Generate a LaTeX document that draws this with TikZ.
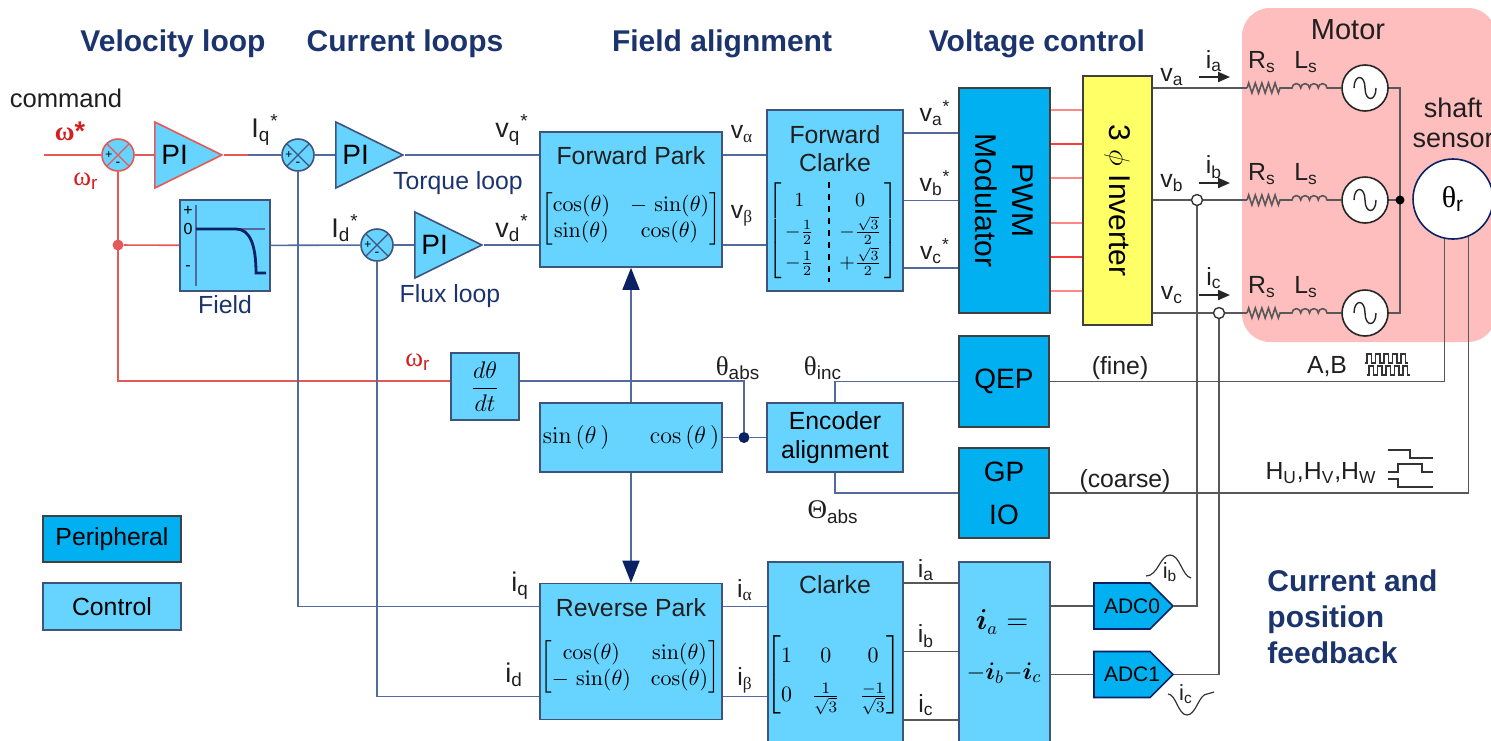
\documentclass[tikz,border=0pt]{standalone}
\usepackage{amsmath}
\usepackage[no-math]{fontspec}
\setmainfont{Liberation Sans}
\newfontfamily\gk{Liberation Serif}
\usetikzlibrary{shapes.geometric, shapes.symbols, arrows.meta, decorations.pathmorphing}

\definecolor{ctrl}{RGB}{102,212,255}
\definecolor{peri}{RGB}{0,176,240}
\definecolor{bord}{RGB}{62,84,124}
\definecolor{wirec}{RGB}{84,106,156}
\definecolor{navyc}{RGB}{10,34,100}
\definecolor{headc}{RGB}{28,52,110}
\definecolor{velo}{RGB}{228,88,88}
\definecolor{velotxt}{RGB}{214,30,30}
\definecolor{sigc}{RGB}{88,88,88}
\definecolor{invc}{RGB}{255,255,102}
\definecolor{motorbg}{RGB}{255,190,190}
\definecolor{gatelo}{RGB}{255,135,135}
\definecolor{gatehi}{RGB}{250,60,60}

\newcommand{\vsub}[2]{#1\textsubscript{#2}}
\newcommand{\vstar}[2]{#1\textsubscript{#2}\textsuperscript{*}}

\tikzstyle{lbl} = [inner sep=1pt, text=black!88, font=\fontsize{12.4}{15}\selectfont]
\tikzstyle{bigl} = [inner sep=1pt, text=black!88, font=\fontsize{13.5}{16}\selectfont]
\tikzstyle{heading} = [inner sep=0pt, text=headc, font=\bfseries\fontsize{15}{18}\selectfont]
\tikzstyle{ctrlbox} = [rectangle, draw=bord, line width=0.8pt, fill=ctrl, inner sep=0pt, align=center, font=\fontsize{12.4}{14.5}\selectfont]
\tikzstyle{peribox} = [rectangle, draw=black!75, line width=0.8pt, fill=peri, inner sep=0pt, align=center, font=\fontsize{14}{21.5}\selectfont]
\tikzstyle{piamp} = [isosceles triangle, isosceles triangle stretches, shape border rotate=0, minimum width=33pt, minimum height=33.5pt, inner sep=0pt, draw=bord, fill=ctrl, line width=0.8pt, font=\fontsize{14}{16}\selectfont]
\tikzstyle{source} = [circle, draw=black!85, fill=white, minimum size=23pt, inner sep=0pt, line width=0.8pt,
  path picture={\draw [line width=0.7pt] ([xshift=-5.5pt]path picture bounding box.center) .. controls +(0,7pt) and +(0,7pt) .. (path picture bounding box.center) .. controls +(0,-7pt) and +(0,-7pt) .. ([xshift=5.5pt]path picture bounding box.center);}]
\tikzstyle{dot} = [circle, fill, inner sep=0pt, minimum size=5.5pt]
\tikzstyle{tap} = [circle, draw=black!80, fill=white, inner sep=0pt, minimum size=5.5pt, line width=0.7pt]
\tikzstyle{adc} = [signal, signal to=east, draw=navyc, fill=peri, minimum width=39.5pt, minimum height=23pt, inner sep=0pt, line width=0.8pt]
\tikzstyle{wline} = [draw=wirec, line width=0.8pt]
\tikzstyle{rline} = [draw=velo, line width=0.8pt]
\tikzstyle{sline} = [draw=sigc, line width=0.8pt]
\tikzstyle{bigarrow} = [wline, -{Triangle[length=11pt, width=8.5pt, color=navyc]}]
\tikzset{sumj/.style={circle, draw=#1, fill=ctrl, minimum size=16pt, inner sep=0pt, line width=0.8pt,
  path picture={\draw [#1, line width=0.6pt] (path picture bounding box.north west) -- (path picture bounding box.south east)
    (path picture bounding box.north east) -- (path picture bounding box.south west);
    \node [inner sep=0pt, font=\fontsize{6}{6}\selectfont] at ([xshift=-4.6pt]path picture bounding box.center) {+};
    \node [inner sep=0pt, font=\fontsize{7}{7}\selectfont] at ([yshift=-4.8pt]path picture bounding box.center) {-};}}}

\begin{document}
\begin{tikzpicture}[x=0.5pt, y=-0.5pt]
\useasboundingbox (0,0) rectangle (1491,740);
\fill [motorbg, rounded corners=14pt] (1242,8) rectangle (1496,342);

% section titles
\node (tvel) [heading] at (173,44) {Velocity loop};
\node (tcur) [heading] at (405,44) {Current loops};
\node (tfld) [heading] at (722,44) {Field alignment};
\node (tvlt) [heading] at (1037,44) {Voltage control};
\node (tfb) [heading, align=left, anchor=west] at (1267,617) {Current and\\position\\feedback};
\node (tmot) [lbl, font=\fontsize{14.5}{17}\selectfont] at (1348,30) {Motor};
\node (tsh) [lbl, align=center, font=\fontsize{13.5}{15}\selectfont] at (1453,123) {shaft\\sensor};

% control blocks
\node (s1) [sumj=velo] at (118,155) {};
\node (piv) [piamp, draw=velo, anchor=apex] at (224,155) {PI};
\node (field) [ctrlbox, minimum width=45pt, minimum height=45.5pt] at (225,245.5) {};
\node (s2) [sumj=bord] at (298,155) {};
\node (pit) [piamp, anchor=apex] at (405,155) {PI};
\node (s3) [sumj=bord] at (377,245) {};
\node (pif) [piamp, anchor=apex] at (484,245) {PI};
\node (fpark) [ctrlbox, minimum width=91pt, minimum height=67.5pt] at (631,199.5) {};
\node (fclarke) [ctrlbox, minimum width=68pt, minimum height=90.5pt] at (835,200.5) {};
\node (ddt) [ctrlbox, minimum width=34pt, minimum height=33.5pt, font=\fontsize{13}{15}\selectfont] at (485,386.5) {$\dfrac{d\theta}{dt}$};
\node (sincos) [ctrlbox, minimum width=91pt, minimum height=34.5pt, font=\fontsize{11.5}{14}\selectfont] at (631,437.5) {$\sin\,(\theta\,)\quad\;\;\cos\,(\theta\,)$};
\node (enc) [ctrlbox, minimum width=68pt, minimum height=34.5pt] at (835,437.5) {Encoder\\alignment};
\node (rpark) [ctrlbox, minimum width=91pt, minimum height=68pt] at (631,651.5) {};
\node (clarke) [ctrlbox, minimum width=67.5pt, minimum height=91.5pt] at (835.5,653.5) {};
\node (iabox) [ctrlbox, minimum width=45.5pt, minimum height=91.5pt] at (1004.5,653.5) {};

% peripherals
\node (pwm) [peribox, minimum width=45.5pt, minimum height=112.5pt] at (1004.5,200.5) {};
\node (inv) [peribox, fill=invc, minimum width=34.5pt, minimum height=124.5pt] at (1117.5,200.5) {};
\node (qep) [peribox, minimum width=45pt, minimum height=45.5pt] at (1004,381.5) {QEP};
\node (gpio) [peribox, minimum width=45pt, minimum height=45pt] at (1004,493) {GP\\IO};
\node (adc0) [adc] at (1122,606) {};
\node (adc1) [adc] at (1122,674.5) {};
\node (adc0t) [inner sep=0pt, font=\fontsize{10.5}{12}\selectfont] at (1132,606) {ADC0};
\node (adc1t) [inner sep=0pt, font=\fontsize{10.5}{12}\selectfont] at (1132,674.5) {ADC1};
\node (legp) [peribox, minimum width=69pt, minimum height=23pt, font=\fontsize{12.4}{14}\selectfont] at (112,539) {Peripheral};
\node (legc) [ctrlbox, minimum width=69pt, minimum height=23.5pt] at (112,606.5) {Control};

% block contents
\node (pwmt) [rotate=-90, align=center, font=\fontsize{15}{18.5}\selectfont] at (pwm) {PWM\\Modulator};
\node (invt) [rotate=-90, font=\fontsize{15}{18}\selectfont] at (inv) {3 $\phi$ Inverter};
\node (fpt) [lbl] at (631,156) {Forward Park};
\node (fpm) [font=\fontsize{11}{13}\selectfont] at (631,219) {$\begin{bmatrix}\cos(\theta) & -\,\sin(\theta)\\ \sin(\theta) & \cos(\theta)\end{bmatrix}$};
\node (fct) [lbl, align=center, font=\fontsize{12.4}{14}\selectfont] at (835,149) {Forward\\Clarke};
\node (fcm) [font=\fontsize{10}{12}\selectfont] at (833,231) {\renewcommand\arraystretch{1.3}$\left[\begin{array}{@{\,}c@{\hspace{13pt}}c@{\,}}1 & 0\\ -\frac{1}{2} & -\frac{\sqrt{3}}{2}\\ -\frac{1}{2} & +\frac{\sqrt{3}}{2}\end{array}\right]$};
\draw [dashed, line width=0.6pt] (829,182) -- (829,282);
\node (rpt) [lbl] at (631,608) {Reverse Park};
\node (rpm) [font=\fontsize{11}{13}\selectfont] at (630,667) {$\begin{bmatrix}\cos(\theta) & \sin(\theta)\\ -\,\sin(\theta) & \cos(\theta)\end{bmatrix}$};
\node (clt) [lbl] at (835,585) {Clarke};
\node (clm) [font=\fontsize{11}{13}\selectfont] at (834,675) {\setlength\arraycolsep{5pt}\renewcommand\arraystretch{1.5}$\begin{bmatrix}1 & 0 & 0\\ 0 & \frac{1}{\sqrt{3}} & \frac{-1}{\sqrt{3}}\end{bmatrix}$};
\node (iat) [font=\fontsize{13.5}{16}\selectfont] at (1002,622) {$\boldsymbol{i}_a=$};
\node (ibt) [font=\fontsize{13}{16}\selectfont] at (1004,673) {$-\boldsymbol{i}_b{-}\boldsymbol{i}_c$};

% field weakening curve
\draw [wirec, line width=0.6pt] (196,205) -- (196,286) (196,229) -- (265,229);
\draw [navyc, line width=1.4pt] (196,229) -- (236,229) .. controls (250,229) and (256,245) .. (256,273) -- (266,273);
\node (fplus) [inner sep=0pt, font=\fontsize{8}{9}\selectfont] at (188,211) {+};
\node (fzero) [inner sep=0pt, font=\fontsize{8}{9}\selectfont] at (188,229) {0};
\node (fminus) [inner sep=0pt, font=\fontsize{8}{9}\selectfont] at (188,268) {-};

% velocity loop
\coordinate (wref) at (44,155);
\coordinate (iqs) at (248,155);
\node (dv) [dot, fill=velo] at (118,245) {};
\draw [rline] (wref) -- (s1);
\draw [rline] (s1) -- (piv);
\draw [rline] (piv.apex) -- (iqs);
\draw [rline] (s1) |- ([yshift=2.75pt]ddt.west);
\draw [rline] (dv) -- (field);

% current loops and field alignment
\draw [wline] (iqs) -- (s2);
\draw [wline] (s2) -- (pit);
\draw [wline] (field) -- (s3);
\draw [wline] (s3) -- (pif);
\draw [wline] (pit.apex) -- (pit.apex -| fpark.west);
\draw [wline] (pif.apex) -- (pif.apex -| fpark.west);
\draw [wline] (s2) |- ([yshift=22.5pt]rpark.west);
\draw [wline] (s3) |- ([yshift=-22.5pt]rpark.west);
\draw [wline] (fpark.east |- s2) -- (fclarke.west |- s2);
\draw [wline] (fpark.east |- s3) -- (fclarke.west |- s3);
\foreach \dy in {33.75,0,-33.75}
  \draw [wline] ([yshift=\dy pt]fclarke.east) coordinate (t) -- (t -| pwm.west);
\foreach \dy/\c in {45.25/gatelo, 28.25/gatehi, 11.25/gatelo, -11.25/gatelo, -28.25/gatehi, -45.25/gatelo}
  \draw [\c, line width=0.9pt] ([yshift=\dy pt]pwm.east) coordinate (t) -- (t -| inv.west);
\draw [bigarrow] (sincos) -- (fpark);
\draw [bigarrow] (sincos) -- (rpark);
\node (jn) [dot, fill=navyc] at (744,437.5) {};
\draw [wline] (sincos) -- (jn);
\draw [wline] (jn) -- (enc);
\draw [wline] ([yshift=2.75pt]ddt.east) -| (jn);
\draw [wline] (enc) |- (qep);
\draw [wline] (enc) |- (gpio);
\foreach \dy in {22.5,-22.5}
  \draw [wline] ([yshift=\dy pt]rpark.east) coordinate (t) -- (t -| clarke.west);
\foreach \dy in {35.25,1,-33.25}
  \draw [sline] ([yshift=\dy pt]clarke.east) coordinate (t) -- (t -| iabox.west);
\draw [sline] (adc0.west -| iabox.east) -- (adc0);
\draw [sline] (adc1.west -| iabox.east) -- (adc1);

% motor phases
\foreach \p/\y in {a/88, b/200, c/313} {
  \coordinate (r\p) at (1247,\y);
  \node (src\p) [source] at (1365,\y) {};
  \draw [sline] (inv.east |- r\p) -- (r\p);
  \draw [sline, decorate, decoration={zigzag, segment length=3.3pt, amplitude=2.5pt}] (r\p) -- (1280,\y);
  \draw [sline] (1280,\y) -- (1292,\y) arc[start angle=180, end angle=360, radius=4.375] arc[start angle=180, end angle=360, radius=4.375] arc[start angle=180, end angle=360, radius=4.375] arc[start angle=180, end angle=360, radius=4.375] -- (src\p);
  \node (rs\p) [lbl] at (1262,\y-26) {\vsub{R}{s}};
  \node (ls\p) [lbl] at (1306,\y-26) {\vsub{L}{s}};
}
\coordinate (star) at (1400,200);
\draw [sline] (srca) -| (star);
\draw [sline] (srcb) -- (star);
\draw [sline] (srcc) -| (star);
\node (stardot) [dot, fill=black, minimum size=4.5pt] at (star) {};
\foreach \p/\y/\ay/\iy in {a/88/77/61, b/200/183/167, c/313/295/278} {
  \node (v\p) [lbl] at (1172,\ay) {\vsub{v}{\p}};
  \node (i\p) [lbl] at (1214,\iy) {\vsub{i}{\p}};
  \draw [-{Triangle[length=6pt, width=5pt]}, line width=1pt, black!85] (1199,\ay) -- (1230,\ay);
}
\node (ob) [tap] at (1197,200) {};
\node (oc) [tap] at (1219,313) {};
\draw [sline] (ob) |- (adc0.east);
\draw [sline] (oc) |- (adc1.east);

% position sensor
\node (sensor) [circle, draw=navyc, fill=white, minimum size=40pt, inner sep=0pt, line width=0.8pt, font=\fontsize{15}{17}\selectfont] at (1453,199) {{\gk θ}\textsubscript{r}};
\draw [sline] (sensor.258) |- (qep.east);
\draw [sline] (sensor.292) |- (gpio.east);
\foreach \r/\o in {0/0, 1/2}
  \draw [black!80, line width=0.6pt] (1365+\o,363+12*\r) \foreach \i in {1,...,5} {-- ++(2,0) -- ++(0,-9) -- ++(4.5,0) -- ++(0,9) -- ++(2,0)};
\draw [black!80, line width=0.6pt] (1388,450) -- (1410,450) -- (1410,458) -- (1433,458);
\draw [black!80, line width=0.6pt] (1388,472) -- (1398,472) -- (1398,464) -- (1422,464) -- (1422,472) -- (1433,472);
\draw [black!80, line width=0.6pt] (1388,479) -- (1398,479) -- (1398,487) -- (1433,487);

% current waveforms
\draw [black!80, line width=0.6pt] (1146,576) .. controls (1158,576) and (1160,555) .. (1170,555) .. controls (1180,555) and (1182,576) .. (1191,578);
\draw [black!80, line width=0.6pt] (1168,694) .. controls (1176,694) and (1178,715) .. (1187,715) .. controls (1196,715) and (1199,694) .. (1207,694) -- (1214,692);
\node (wib) [lbl, font=\fontsize{11}{12}\selectfont] at (1170,572) {\vsub{i}{b}};
\node (wic) [lbl, font=\fontsize{11}{12}\selectfont] at (1186,694) {\vsub{i}{c}};

% labels
\node (lcmd) [lbl, font=\fontsize{12.8}{15}\selectfont] at (66,98) {command};
\node (lw) [bigl, text=velotxt] at (70,131) {{\gk\bfseries ω}\textbf{*}};
\node (lwr) [bigl, text=velotxt] at (86,181) {\vsub{{\gk ω}}{r}};
\node (lwr2) [bigl, text=velotxt] at (418,362) {\vsub{{\gk ω}}{r}};
\node (liq) [bigl] at (265,130) {\vstar{I}{q}};
\node (lid) [bigl] at (345,228) {\vstar{I}{d}};
\node (lvq) [bigl] at (512,130) {\vstar{v}{q}};
\node (lvd) [bigl] at (512,228) {\vstar{v}{d}};
\node (ltq) [lbl, text=headc] at (458,183) {Torque loop};
\node (lfx) [lbl, text=headc] at (450,296) {Flux loop};
\node (lfd) [lbl, text=headc] at (225,305) {Field};
\node (lva) [lbl] at (742,134) {\vsub{v}{\gk α}};
\node (lvb) [lbl] at (742,216) {\vsub{v}{\gk β}};
\node (lvas) [lbl] at (935,113) {\vstar{v}{a}};
\node (lvbs) [lbl] at (935,183) {\vstar{v}{b}};
\node (lvcs) [lbl] at (935,251) {\vstar{v}{c}};
\node (ltabs) [bigl] at (738,368) {\vsub{{\gk θ}}{abs}};
\node (ltinc) [bigl] at (823,368) {\vsub{{\gk θ}}{inc}};
\node (lTabs) [bigl] at (833,512) {\vsub{{\gk Θ}}{abs}};
\node (lfine) [lbl] at (1120,368) {(fine)};
\node (lcoarse) [lbl] at (1125,481) {(coarse)};
\node (lab) [lbl] at (1327,367) {A,B};
\node (lhall) [lbl] at (1321,473) {\vsub{H}{U},\vsub{H}{V},\vsub{H}{W}};
\node (liqf) [bigl] at (520,586) {\vsub{i}{q}};
\node (lidf) [bigl] at (514,675) {\vsub{i}{d}};
\node (lial) [lbl] at (745,590) {\vsub{i}{\gk α}};
\node (libe) [lbl] at (745,680) {\vsub{i}{\gk β}};
\node (lia) [lbl] at (926,570) {\vsub{i}{a}};
\node (lib) [lbl] at (926,636) {\vsub{i}{b}};
\node (lic) [lbl] at (926,705) {\vsub{i}{c}};
\end{tikzpicture}
\end{document}
